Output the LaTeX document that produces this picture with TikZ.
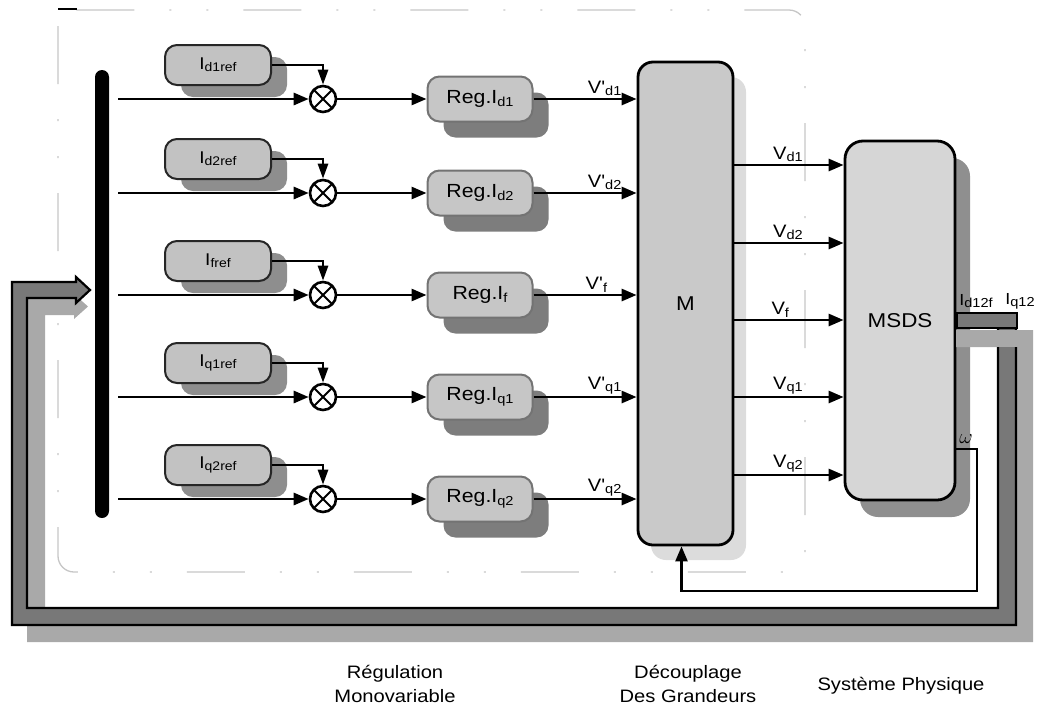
\documentclass[tikz,border=0pt]{standalone}
\usepackage{fontspec}
\newfontfamily\lsans{Liberation Sans}[FakeStretch=1.12]
\usetikzlibrary{arrows.meta,shadows}
\definecolor{refgray}{HTML}{C2C2C2}
\definecolor{refshadow}{HTML}{8E8E8E}
\definecolor{reggray}{HTML}{C6C6C6}
\definecolor{regshadow}{HTML}{7D7D7D}
\definecolor{mgray}{HTML}{C9C9C9}
\definecolor{mshadow}{HTML}{DCDCDC}
\definecolor{sgray}{HTML}{D6D6D6}
\definecolor{sshadow}{HTML}{8F8F8F}
\definecolor{banddark}{HTML}{787878}
\definecolor{bandlight}{HTML}{A9A9A9}
\newcommand{\sbs}[2][13]{\raisebox{-0.25ex}{\fontsize{#1}{#1}\selectfont #2}}
\begin{document}
\begin{tikzpicture}[x=1pt,y=-1pt,
  arr/.style={line width=2.8pt,-{Triangle[length=15pt,width=12pt]}},
  refbox/.style={draw=black!85,line width=2pt,fill=refgray,rounded corners=12pt,
    minimum width=106pt,minimum height=40pt,inner sep=0pt,
    font=\lsans\fontsize{17}{20}\selectfont,
    general shadow={shadow xshift=16pt,shadow yshift=-12pt,fill=refshadow}},
  regbox/.style={draw=black!55,line width=2pt,fill=reggray,rounded corners=12pt,
    minimum width=105pt,minimum height=45pt,inner sep=0pt,
    font=\lsans\fontsize{19}{22}\selectfont,
    general shadow={shadow xshift=16pt,shadow yshift=-16pt,fill=regshadow}},
  sumnode/.style={circle,draw,line width=2.6pt,fill=white,minimum size=26pt,inner sep=0pt,
    path picture={\draw[line width=2pt]
      (path picture bounding box.north west) -- (path picture bounding box.south east)
      (path picture bounding box.north east) -- (path picture bounding box.south west);}},
  bigbox/.style={draw=black,line width=2.8pt,inner sep=0pt,
    font=\lsans\fontsize{20}{24}\selectfont},
  vlabel/.style={font=\lsans\fontsize{18}{20}\selectfont,inner sep=1.5pt},
  caption/.style={font=\lsans\fontsize{18}{24}\selectfont,align=center}
]
\useasboundingbox (0,0) rectangle (1039,710);

% faint grouping frame
\draw[gray!45,line width=1.3pt,rounded corners=16pt,
  dash pattern=on 58pt off 35pt on 2pt off 35pt on 2pt off 35pt] (58,10) rectangle (805,572);
\draw[line width=2.5pt] (58,9) -- (77,9);

% input bus bar
\node[fill=black,rounded corners=7pt,minimum width=14pt,minimum height=448pt,inner sep=0pt] (bar) at (102,294) {};

% rows
\foreach \i/\y/\s in {1/99/d1,2/193/d2,3/295/f,4/397/q1,5/499/q2}{
  \node[refbox] (ref\i) at (218,\y-34) {I\sbs[12.5]{\s ref}};
  \node[sumnode] (sum\i) at (323,\y) {};
  \node[regbox] (reg\i) at (480,\y) {Reg.I\sbs{\s}};
}

% M and MSDS
\node[bigbox,fill=mgray,rounded corners=15pt,minimum width=95pt,minimum height=483pt,
  general shadow={shadow xshift=13pt,shadow yshift=-15pt,fill=mshadow}] (M) at (685.5,303.5) {M};
\node[bigbox,fill=sgray,rounded corners=18pt,minimum width=110pt,minimum height=359pt,
  general shadow={shadow xshift=15pt,shadow yshift=-17pt,fill=sshadow}] (MSDS) at (900,320.5) {MSDS};

% row connectors
\foreach \i/\s/\p in {1/d1/0.69,2/d2/0.69,3/f/0.61,4/q1/0.69,5/q2/0.69}{
  \draw[arr,shorten <=9pt] (bar.east |- sum\i.west) -- (sum\i.west);
  \draw[line width=2.6pt,-{Triangle[length=15pt,width=10pt]}] (ref\i.east) -| (sum\i.north);
  \draw[arr] (sum\i.east) -- (reg\i.west);
  \draw[arr] (reg\i.east) -- (M.west |- reg\i.east)
    node[vlabel,above,pos=\p] {V'\sbs{\s}};
}

% M -> MSDS
\foreach \y/\s/\p in {165/d1/0.49,243/d2/0.49,320/f/0.42,397/q1/0.49,475/q2/0.49}{
  \draw[arr] (M.east |- 0,\y) -- (MSDS.west |- 0,\y)
    node[vlabel,above,pos=\p] {V\sbs{\s}};
}

% omega feedback
\node[font=\fontsize{20}{20}\selectfont] (om) at (966,439) {$\omega$};
\coordinate (omc) at (977,591);
\draw[line width=2.4pt,-{Triangle[length=15pt,width=12pt]}]
  (MSDS.east |- 0,449) -| (omc) -| ([xshift=-4pt]M.south);

% current feedback bus
\fill[bandlight] (956,330) -- (1033,330) -- (1033,642) -- (27,642) -- (27,298)
  -- (74,298) -- (74,294) -- (88,306.5) -- (74,319) -- (74,315) -- (45,315)
  -- (45,625) -- (1016,625) -- (1016,347) -- (956,347) -- cycle;
\draw[black,line width=2.2pt,fill=banddark,line join=miter]
  (1016,328) -- (1016,625) -- (12,625) -- (12,282) -- (76,282) -- (76,277)
  -- (90,290) -- (76,303) -- (76,298) -- (27,298) -- (27,608) -- (998,608)
  -- (998,328) -- cycle;
\fill[bandlight] (957,329.5) rectangle (1033,347);
\draw[black,line width=2.2pt,fill=banddark] (MSDS.east |- 0,313) rectangle (1017,328);
\node[font=\lsans\fontsize{16}{18}\selectfont,inner sep=0pt] (lid) at (976,301) {I\sbs[13]{d12f}};
\node[font=\lsans\fontsize{16}{18}\selectfont,inner sep=0pt] (liq) at (1020,301) {I\sbs[13]{q12}};

% captions
\node[caption] (c1) at (395,684) {Régulation\\Monovariable};
\node[caption] (c2) at (688,684) {Découplage\\Des Grandeurs};
\node[caption] (c3) at (901,686) {Système Physique};
\end{tikzpicture}
\end{document}
